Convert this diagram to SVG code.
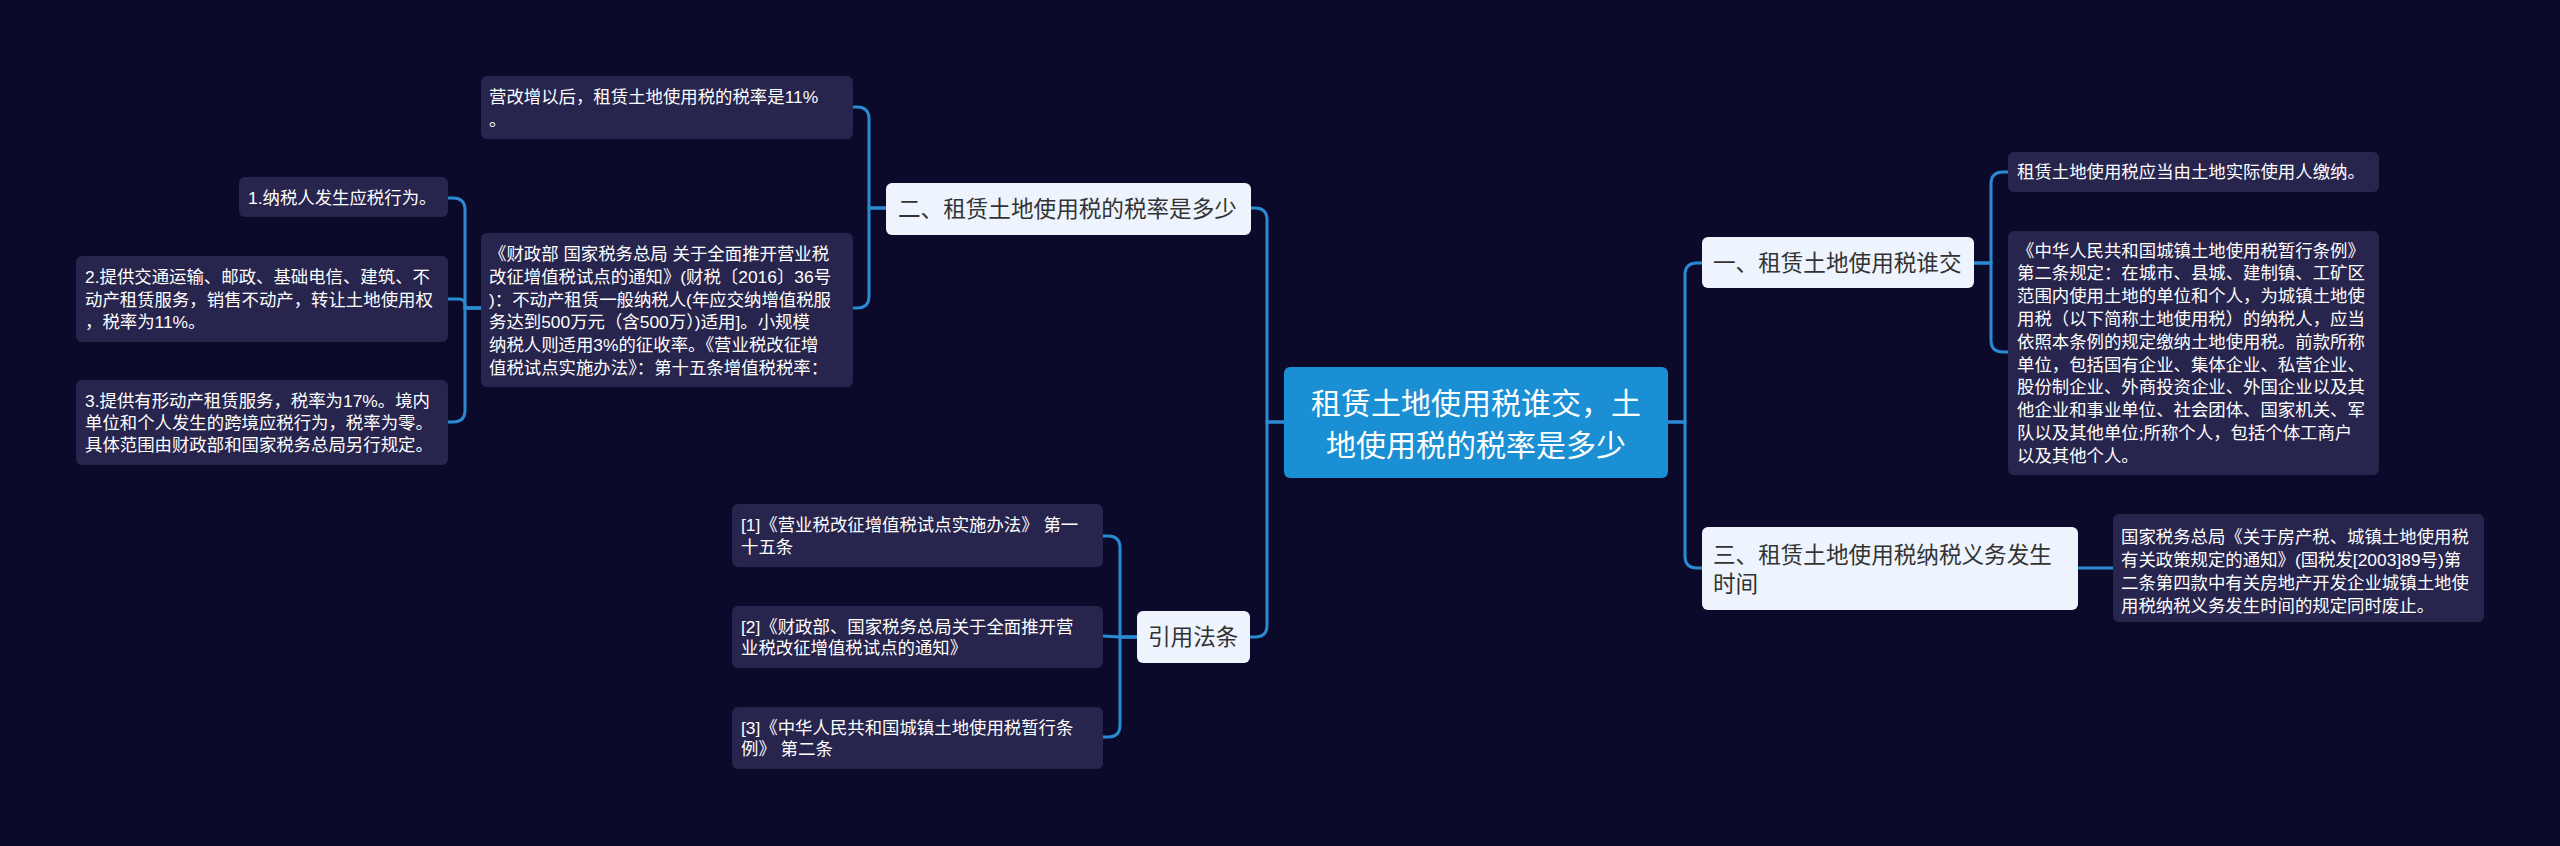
<svg xmlns="http://www.w3.org/2000/svg" width="2560" height="846" viewBox="0 0 2560 846">
<style>
text{font-family:"Liberation Sans","Noto Sans CJK SC",sans-serif;dominant-baseline:central}
.leaf rect{fill:#27244d}
.leaf text{fill:#ffffff;font-size:17.4px}
.l1 rect{fill:#eef4fd}
.l1 text{fill:#333333;font-size:22.6px}
.root rect{fill:#1b8fd4}
.root text{fill:#ffffff;font-size:30px;text-anchor:middle}
#edges path{fill:none;stroke:#2a8bd3;stroke-width:3;stroke-linecap:round}
</style>
<rect x="0" y="0" width="2560" height="846" fill="#0b0a2b"/>
<g id="edges">
<path d="M1668,422 H1685 V275 Q1685,263 1697,263 H1702"/>
<path d="M1668,422 H1685 V556 Q1685,568 1697,568 H1702"/>
<path d="M1284,422 H1267 V220 Q1267,208 1255,208 H1251"/>
<path d="M1284,422 H1267 V625 Q1267,637 1255,637 H1250"/>
<path d="M1974,263 H1991 V184 Q1991,172 2003,172 H2008"/>
<path d="M1974,263 H1991 V340 Q1991,352 2003,352 H2008"/>
<path d="M2078,568 H2113"/>
<path d="M886,208 H869 V119 Q869,107 857,107 H853"/>
<path d="M886,208 H869 V296 Q869,308 857,308 H853"/>
<path d="M481,308 H465 V210 Q465,198 453,198 H448"/>
<path d="M481,308 H465 V305 Q465,299 459,299 H448"/>
<path d="M481,308 H465 V410 Q465,422 453,422 H448"/>
<path d="M1137,637 H1120 V548 Q1120,536 1108,536 H1103"/>
<path d="M1137,637 H1120 L1103,636"/>
<path d="M1137,637 H1120 V725 Q1120,737 1108,737 H1103"/>
</g>
<g id="root" class="root">
<rect x="1284" y="367" width="384" height="111" rx="6"/>
<text x="1476" y="403">租赁土地使用税谁交，土</text>
<text x="1476" y="445">地使用税的税率是多少</text>
</g>
<g id="n1" class="l1">
<rect x="1702" y="237" width="272" height="51" rx="6"/>
<text x="1713" y="263">一、租赁土地使用税谁交</text>
</g>
<g id="n2" class="l1">
<rect x="886" y="183" width="365" height="52" rx="6"/>
<text x="898" y="209">二、租赁土地使用税的税率是多少</text>
</g>
<g id="n3" class="l1">
<rect x="1702" y="527" width="376" height="83" rx="6"/>
<text x="1713" y="555">三、租赁土地使用税纳税义务发生</text>
<text x="1713" y="584">时间</text>
</g>
<g id="n4" class="l1">
<rect x="1137" y="611" width="113" height="52" rx="6"/>
<text x="1148" y="637">引用法条</text>
</g>
<g id="d1" class="leaf">
<rect x="2008" y="152" width="371" height="40" rx="6"/>
<text x="2017" y="172">租赁土地使用税应当由土地实际使用人缴纳。</text>
</g>
<g id="d2" class="leaf">
<rect x="2008" y="231" width="371" height="244" rx="6"/>
<text x="2017" y="250.5">《中华人民共和国城镇土地使用税暂行条例》</text>
<text x="2017" y="273.3">第二条规定：在城市、县城、建制镇、工矿区</text>
<text x="2017" y="296.1">范围内使用土地的单位和个人，为城镇土地使</text>
<text x="2017" y="318.9">用税（以下简称土地使用税）的纳税人，应当</text>
<text x="2017" y="341.7">依照本条例的规定缴纳土地使用税。前款所称</text>
<text x="2017" y="364.5">单位，包括国有企业、集体企业、私营企业、</text>
<text x="2017" y="387.3">股份制企业、外商投资企业、外国企业以及其</text>
<text x="2017" y="410.1">他企业和事业单位、社会团体、国家机关、军</text>
<text x="2017" y="432.9">队以及其他单位;所称个人，包括个体工商户</text>
<text x="2017" y="455.7">以及其他个人。</text>
</g>
<g id="e1" class="leaf">
<rect x="2113" y="514" width="371" height="108" rx="6"/>
<text x="2121" y="537">国家税务总局《关于房产税、城镇土地使用税</text>
<text x="2121" y="560">有关政策规定的通知》(国税发[2003]89号)第</text>
<text x="2121" y="583">二条第四款中有关房地产开发企业城镇土地使</text>
<text x="2121" y="606">用税纳税义务发生时间的规定同时废止。</text>
</g>
<g id="a1" class="leaf">
<rect x="481" y="76" width="372" height="63" rx="6"/>
<text x="489" y="97">营改增以后，租赁土地使用税的税率是11%</text>
<text x="489" y="120">。</text>
</g>
<g id="a2" class="leaf">
<rect x="481" y="233" width="372" height="154" rx="6"/>
<text x="489" y="254">《财政部 国家税务总局 关于全面推开营业税</text>
<text x="489" y="277">改征增值税试点的通知》(财税〔2016〕36号</text>
<text x="489" y="300">)：不动产租赁一般纳税人(年应交纳增值税服</text>
<text x="489" y="322">务达到500万元（含500万）)适用]。小规模</text>
<text x="489" y="345">纳税人则适用3%的征收率。《营业税改征增</text>
<text x="489" y="368">值税试点实施办法》：第十五条增值税税率：</text>
</g>
<g id="b1" class="leaf">
<rect x="239" y="177" width="209" height="40" rx="6"/>
<text x="248" y="198">1.纳税人发生应税行为。</text>
</g>
<g id="b2" class="leaf">
<rect x="76" y="256" width="372" height="86" rx="6"/>
<text x="85" y="277">2.提供交通运输、邮政、基础电信、建筑、不</text>
<text x="85" y="300">动产租赁服务，销售不动产，转让土地使用权</text>
<text x="85" y="322">，税率为11%。</text>
</g>
<g id="b3" class="leaf">
<rect x="76" y="380" width="372" height="85" rx="6"/>
<text x="85" y="401">3.提供有形动产租赁服务，税率为17%。境内</text>
<text x="85" y="423">单位和个人发生的跨境应税行为，税率为零。</text>
<text x="85" y="445">具体范围由财政部和国家税务总局另行规定。</text>
</g>
<g id="c1" class="leaf">
<rect x="732" y="504" width="371" height="63" rx="6"/>
<text x="741" y="525">[1]《营业税改征增值税试点实施办法》 第一</text>
<text x="741" y="547">十五条</text>
</g>
<g id="c2" class="leaf">
<rect x="732" y="606" width="371" height="62" rx="6"/>
<text x="741" y="627">[2]《财政部、国家税务总局关于全面推开营</text>
<text x="741" y="648">业税改征增值税试点的通知》</text>
</g>
<g id="c3" class="leaf">
<rect x="732" y="707" width="371" height="62" rx="6"/>
<text x="741" y="728">[3]《中华人民共和国城镇土地使用税暂行条</text>
<text x="741" y="749">例》 第二条</text>
</g>
</svg>
